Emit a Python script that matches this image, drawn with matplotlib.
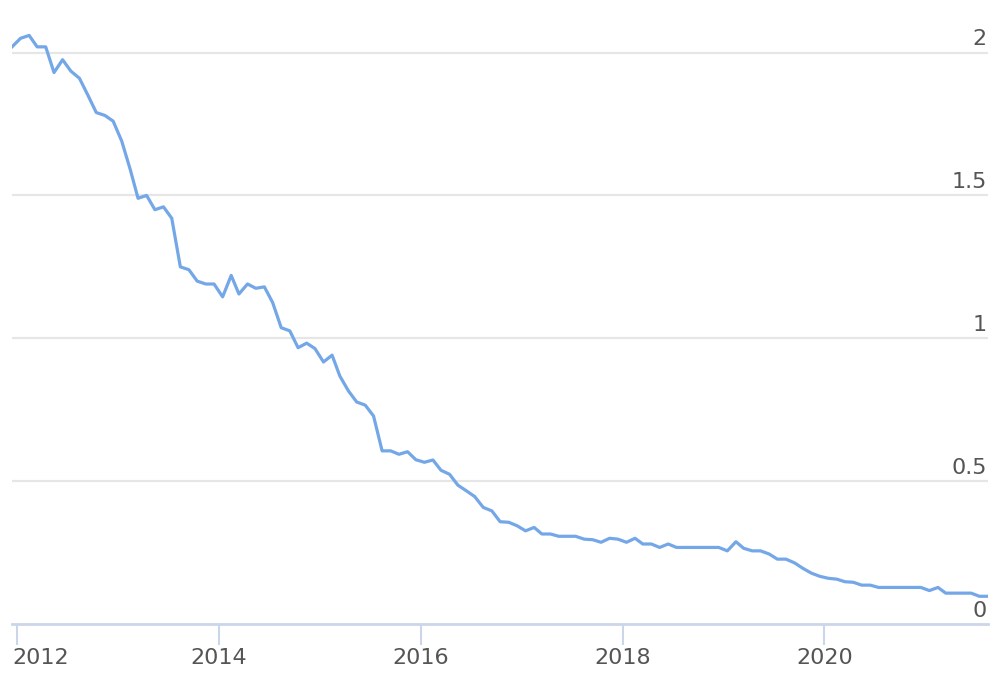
import numpy as np
import pandas as pd
import matplotlib
matplotlib.use("Agg")
from matplotlib import pyplot as plt
import matplotlib.dates as mdates
import matplotlib.transforms as mtransforms

# monthly values, starting Dec 2011
values = [2.02, 2.05, 2.06, 2.02, 2.02, 1.93, 1.975, 1.935, 1.91, 1.85,
          1.79, 1.78, 1.76, 1.69, 1.59, 1.49, 1.50, 1.45, 1.46, 1.42,
          1.25, 1.24, 1.20, 1.19, 1.19, 1.145, 1.22, 1.155, 1.19, 1.175,
          1.18, 1.125, 1.037, 1.026, 0.967, 0.983, 0.964, 0.917, 0.941, 0.868,
          0.816, 0.777, 0.766, 0.728, 0.606, 0.606, 0.594, 0.603, 0.575, 0.566,
          0.574, 0.538, 0.524, 0.486, 0.466, 0.446, 0.408, 0.396, 0.358, 0.356,
          0.344, 0.326, 0.338, 0.315, 0.315, 0.307, 0.307, 0.307, 0.297, 0.295,
          0.286, 0.300, 0.297, 0.286, 0.300, 0.280, 0.280, 0.268, 0.280, 0.268,
          0.268, 0.268, 0.268, 0.268, 0.268, 0.256, 0.288, 0.265, 0.256, 0.256,
          0.245, 0.227, 0.227, 0.214, 0.195, 0.178, 0.167, 0.160, 0.157, 0.148,
          0.146, 0.136, 0.136, 0.128, 0.128, 0.128, 0.128, 0.128, 0.128, 0.117,
          0.128, 0.108, 0.108, 0.108, 0.108, 0.097, 0.097]

dates = pd.date_range("2011-12-01", periods=len(values), freq="MS") + pd.Timedelta(days=14)

y_ticks = [0, 0.5, 1, 1.5, 2]
y_labels = ["0", "0.5", "1", "1.5", "2"]
x_years = [2012, 2014, 2016, 2018, 2020]

fig = plt.figure(figsize=(10, 6.81), dpi=100)
ax = fig.add_axes([0.012, 1 - 624 / 681, 0.976, 600 / 681])

ax.plot(dates, values, color="#74a7e8", linewidth=2.3, solid_joinstyle="round", zorder=3)

ax.set_xlim(dates[0], dates[-1])
ax.set_ylim(0, 2.1)

for v in y_ticks[1:]:
    ax.axhline(v, color="#e6e6e6", linewidth=1.6, zorder=1)

for v, lab in zip(y_ticks, y_labels):
    ax.annotate(lab, xy=(1, v), xycoords=("axes fraction", "data"),
                xytext=(-1, 2.5), textcoords="offset points",
                ha="right", va="bottom", fontsize=16, color="#555555")

ax.set_yticks([])
ax.set_xticks([pd.Timestamp(f"{y}-01-01") for y in x_years])
ax.xaxis.set_major_formatter(mdates.DateFormatter("%Y"))
ax.tick_params(axis="x", length=15, width=1.5, color="#ccd6eb",
               labelsize=16, labelcolor="#555555", pad=2)

# first label pushed inside the figure, like the original
first = ax.get_xticklabels()[0]
first.set_horizontalalignment("left")
first.set_transform(first.get_transform() + mtransforms.ScaledTranslation(-4 / 100, 0, fig.dpi_scale_trans))

for side in ["top", "right", "left"]:
    ax.spines[side].set_visible(False)
ax.spines["bottom"].set_color("#ccd6eb")
ax.spines["bottom"].set_linewidth(2)

plt.savefig("out.png", dpi=100)
